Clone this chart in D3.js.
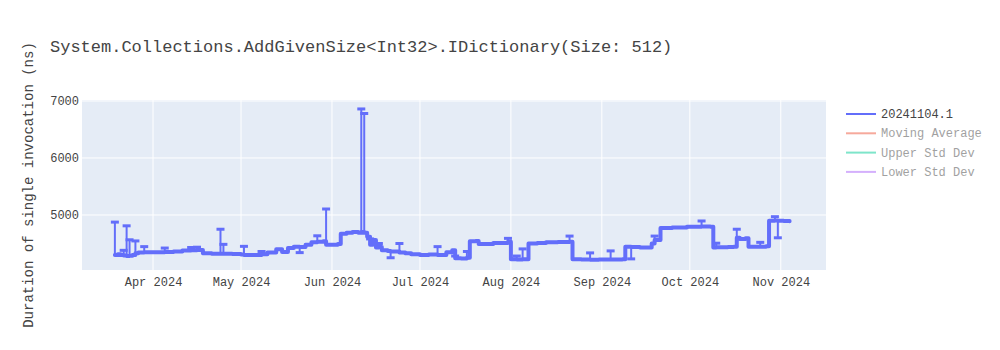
<!DOCTYPE html>
<html>
<head>
<meta charset="utf-8">
<script src="https://cdn.jsdelivr.net/npm/d3@7"></script>
<style>
  body { margin: 0; background: #fff; }
  svg { font-family: "Liberation Mono", "Courier New", monospace; }
</style>
</head>
<body>
<svg id="chart" width="1000" height="350"></svg>
<script>
// Data
const dates = [
  "2024-03-19","2024-03-20","2024-03-21","2024-03-22","2024-03-23","2024-03-24","2024-03-25","2024-03-26","2024-03-27","2024-03-29",
  "2024-04-01","2024-04-05","2024-04-08","2024-04-11","2024-04-14","2024-04-16","2024-04-18","2024-04-21","2024-04-24","2024-04-25",
  "2024-04-28","2024-05-01","2024-05-02","2024-05-05","2024-05-08","2024-05-10","2024-05-13","2024-05-15","2024-05-17","2024-05-19",
  "2024-05-21","2024-05-23","2024-05-25","2024-05-27","2024-05-29","2024-05-30","2024-06-01","2024-06-03","2024-06-04","2024-06-06",
  "2024-06-08","2024-06-10","2024-06-11","2024-06-12","2024-06-13","2024-06-14","2024-06-15","2024-06-16","2024-06-17","2024-06-18",
  "2024-06-20","2024-06-21","2024-06-24","2024-06-26","2024-06-28","2024-07-01","2024-07-04","2024-07-07","2024-07-10","2024-07-12",
  "2024-07-13","2024-07-15","2024-07-17","2024-07-18","2024-07-20","2024-07-21","2024-07-26","2024-07-31","2024-08-01","2024-08-03",
  "2024-08-05","2024-08-07","2024-08-10","2024-08-13","2024-08-17","2024-08-21","2024-08-22","2024-08-25","2024-08-28","2024-08-31",
  "2024-09-04","2024-09-08","2024-09-09","2024-09-11","2024-09-14","2024-09-17","2024-09-18","2024-09-19","2024-09-21","2024-09-25",
  "2024-09-30","2024-10-05","2024-10-08","2024-10-09","2024-10-10","2024-10-14","2024-10-16","2024-10-17","2024-10-18","2024-10-20",
  "2024-10-21","2024-10-25","2024-10-27","2024-10-28","2024-10-30","2024-10-31","2024-11-02","2024-11-04"
];
const values = [
  4300,4310,4300,4290,4280,4285,4300,4330,4340,4345,
  4345,4350,4360,4375,4380,4385,4330,4320,4320,4320,
  4315,4305,4300,4300,4310,4340,4400,4350,4420,4445,
  4440,4480,4520,4530,4540,4480,4480,4490,4670,4690,
  4700,4690,4700,4690,4620,4480,4560,4430,4440,4380,
  4370,4360,4340,4330,4310,4300,4305,4300,4345,4380,
  4240,4235,4250,4540,4545,4490,4510,4530,4225,4220,
  4225,4500,4510,4520,4525,4530,4225,4220,4215,4220,
  4220,4225,4445,4440,4430,4430,4500,4560,4770,4780,
  4795,4800,4795,4430,4435,4440,4445,4600,4580,4590,
  4445,4445,4450,4900,4905,4900,4895,4890
];
const errUp = [
  575,0,0,90,530,280,0,215,0,100,
  0,70,0,0,50,50,0,0,430,165,
  0,0,150,0,50,0,0,0,0,0,
  0,0,0,105,0,625,0,0,0,0,
  0,0,2160,2090,0,100,0,0,60,0,
  0,0,160,0,0,0,0,145,0,0,
  40,0,110,0,0,0,0,60,0,60,
  180,0,0,0,0,100,0,0,120,0,
  150,0,0,0,0,0,0,70,0,0,
  0,95,0,0,70,0,0,150,0,0,
  0,75,0,0,65,0,0,0
];
const errDown = [
  0,0,0,0,0,0,0,0,0,0,
  0,0,0,0,0,0,0,0,0,0,
  0,0,0,0,0,0,0,0,0,0,
  100,0,0,0,0,0,0,0,0,0,
  0,0,0,0,0,0,0,0,0,0,
  0,110,0,0,0,0,0,0,0,0,
  0,0,0,0,0,0,0,0,0,0,
  0,0,0,0,0,0,0,0,0,0,
  0,0,0,210,0,0,0,0,0,0,
  0,0,0,0,0,0,0,0,0,0,
  0,0,0,0,0,300,0,0
];
const yTicks = [5000, 6000, 7000];
const seriesNames = ["20241104.1", "Moving Average", "Upper Std Dev", "Lower Std Dev"];
const seriesColors = ["#636efa", "#EF553B", "#00cc96", "#ab63fa"];
const seriesVisible = [true, false, false, false];

const parse = d3.utcParse("%Y-%m-%d");
const points = dates.map((d, i) => ({ date: parse(d), v: values[i], up: errUp[i], down: errDown[i] }));

const svg = d3.select("#chart");
const m = { left: 82, right: 826, top: 100, bottom: 270 };

const x = d3.scaleUtc()
  .domain([new Date(Date.UTC(2024, 2, 7, 19)), new Date(Date.UTC(2024, 10, 16, 10))])
  .range([m.left, m.right]);
const y = d3.scaleLinear()
  .domain([4035, 7017])
  .range([m.bottom, m.top]);

// plot background
svg.append("rect")
  .attr("x", m.left).attr("y", m.top)
  .attr("width", m.right - m.left).attr("height", m.bottom - m.top)
  .attr("fill", "#e5ecf6");

// grid lines
const monthTicks = d3.utcMonth.range(new Date(Date.UTC(2024, 3, 1)), new Date(Date.UTC(2024, 10, 2)));
svg.append("g").selectAll("line")
  .data(monthTicks)
  .enter().append("line")
    .attr("x1", d => x(d)).attr("x2", d => x(d))
    .attr("y1", m.top).attr("y2", m.bottom)
    .attr("stroke", "#fff").attr("stroke-width", 1);
svg.append("g").selectAll("line")
  .data(yTicks)
  .enter().append("line")
    .attr("x1", m.left).attr("x2", m.right)
    .attr("y1", d => y(d)).attr("y2", d => y(d))
    .attr("stroke", "#fff").attr("stroke-width", 1);

// axes
const xAxis = svg.append("g")
  .attr("transform", `translate(0,${m.bottom})`)
  .call(d3.axisBottom(x).tickValues(monthTicks).tickFormat(d3.utcFormat("%b %Y")).tickSize(0).tickPadding(7));
const yAxis = svg.append("g")
  .attr("transform", `translate(${m.left},0)`)
  .call(d3.axisLeft(y).tickValues(yTicks).tickFormat(d3.format("d")).tickSize(0).tickPadding(3));
[xAxis, yAxis].forEach(a => {
  a.select(".domain").remove();
  a.selectAll("text")
    .attr("fill", "#444")
    .style("font-size", "12px")
    .style("font-family", "'Liberation Mono', 'Courier New', monospace");
});

// error bars
const eb = svg.append("g")
  .attr("stroke", "#636efa")
  .attr("stroke-width", 2);
const withErr = points.filter(p => p.up > 0 || p.down > 0);
eb.selectAll("line.bar")
  .data(withErr)
  .enter().append("line")
    .attr("class", "bar")
    .attr("x1", d => x(d.date)).attr("x2", d => x(d.date))
    .attr("y1", d => y(d.v + d.up)).attr("y2", d => y(d.v - d.down));
const caps = [];
withErr.forEach(p => {
  if (p.up > 0) caps.push({ date: p.date, v: p.v + p.up });
  if (p.down > 0) caps.push({ date: p.date, v: p.v - p.down });
});
eb.selectAll("line.cap")
  .data(caps)
  .enter().append("line")
    .attr("class", "cap")
    .attr("x1", d => x(d.date) - 4).attr("x2", d => x(d.date) + 4)
    .attr("y1", d => y(d.v)).attr("y2", d => y(d.v))
    .attr("stroke-width", 3);

// main line (values hold until the next run, so steps)
const line = d3.line()
  .curve(d3.curveStepAfter)
  .x(d => x(d.date))
  .y(d => y(d.v));
svg.append("path")
  .datum(points)
  .attr("d", line)
  .attr("fill", "none")
  .attr("stroke", "#636efa")
  .attr("stroke-width", 4)
  .attr("stroke-linejoin", "round")
  .attr("stroke-linecap", "round");

// title
svg.append("text")
  .attr("x", 50).attr("y", 52)
  .attr("fill", "#444")
  .style("font-size", "17px")
  .text("System.Collections.AddGivenSize<Int32>.IDictionary(Size: 512)");

// y axis title
svg.append("text")
  .attr("transform", `translate(33,${(m.top + m.bottom) / 2}) rotate(-90)`)
  .attr("text-anchor", "middle")
  .attr("fill", "#444")
  .style("font-size", "14px")
  .text("Duration of single invocation (ns)");

// legend
const legend = svg.append("g").attr("transform", "translate(846,114)");
const items = legend.selectAll("g")
  .data(seriesNames)
  .enter().append("g")
    .attr("transform", (d, i) => `translate(0,${i * 19.3})`)
    .attr("opacity", (d, i) => seriesVisible[i] ? 1 : 0.5);
items.append("line")
  .attr("x1", 0).attr("x2", 30)
  .attr("y1", 0).attr("y2", 0)
  .attr("stroke", (d, i) => seriesColors[i])
  .attr("stroke-width", 2);
items.append("text")
  .attr("x", 35).attr("y", 4)
  .attr("fill", "#444")
  .style("font-size", "12px")
  .text(d => d);
</script>
</body>
</html>
